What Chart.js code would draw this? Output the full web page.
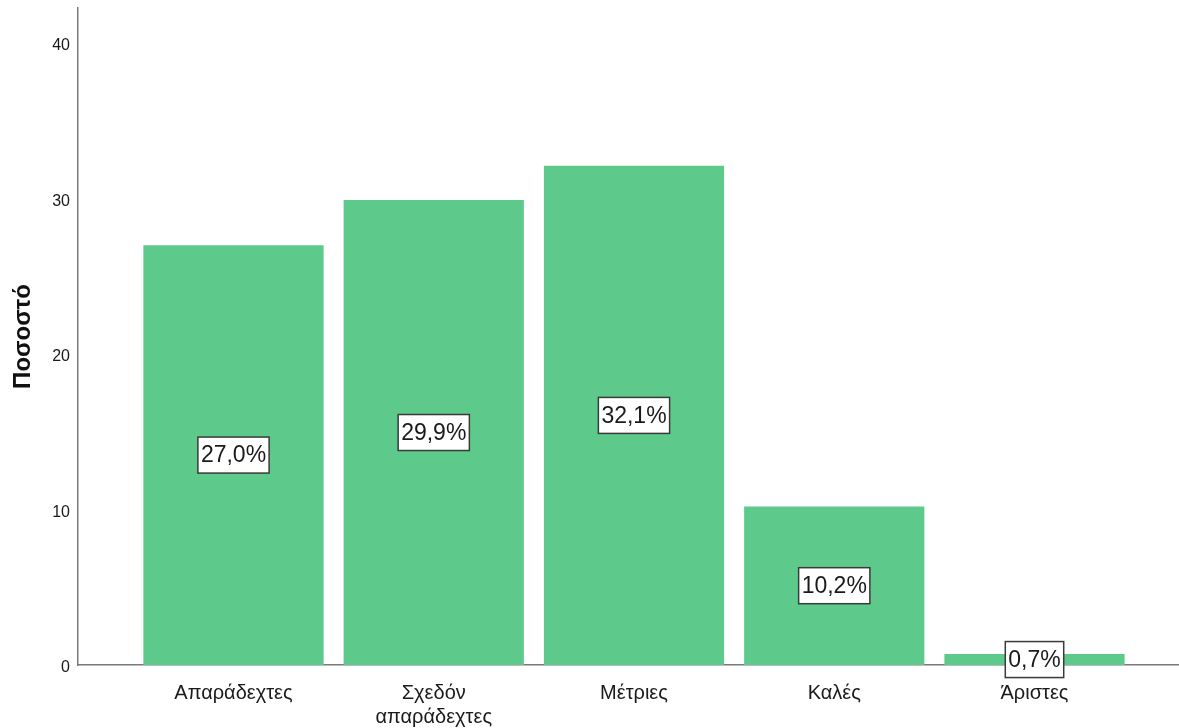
<!DOCTYPE html>
<html>
<head>
<meta charset="utf-8">
<script src="https://cdn.jsdelivr.net/npm/chart.js@4"></script>
<style>
  html, body { margin: 0; padding: 0; background: #fff; }
  #wrap { width: 1179px; height: 728px; position: relative; }
</style>
</head>
<body>
<div id="wrap"><canvas id="barChart"></canvas></div>
<script>
// ===== DATA =====
var categories = ['Απαράδεχτες', 'Σχεδόν απαράδεχτες', 'Μέτριες', 'Καλές', 'Άριστες'];
var percents = [27.0, 29.9, 32.1, 10.2, 0.7];
var yTicks = [0, 10, 20, 30, 40];

var fontFam = "'Liberation Sans', Arial, sans-serif";

// draws the boxed percentage in the middle of each bar
var boxLabels = {
    id: 'boxLabels',
    afterDatasetsDraw: function (chart) {
        var ctx = chart.ctx;
        var meta = chart.getDatasetMeta(0);
        ctx.save();
        ctx.font = '23px ' + fontFam;
        ctx.textAlign = 'center';
        ctx.textBaseline = 'middle';
        meta.data.forEach(function (bar, i) {
            var txt = percents[i].toFixed(1).replace('.', ',') + '%';
            var cx = bar.x;
            var cy = (bar.y + bar.base) / 2;
            var w = ctx.measureText(txt).width + 6;
            var h = 36;
            ctx.fillStyle = '#ffffff';
            ctx.fillRect(cx - w / 2, cy - h / 2, w, h);
            ctx.strokeStyle = '#3a3a3a';
            ctx.lineWidth = 1.5;
            ctx.strokeRect(cx - w / 2, cy - h / 2, w, h);
            ctx.fillStyle = '#1a1a1a';
            ctx.fillText(txt, cx, cy + 1);
        });
        ctx.restore();
    }
};

var ctx = document.getElementById('barChart').getContext('2d');
new Chart(ctx, {
    type: 'bar',
    data: {
        datasets: [{
            data: percents.map(function (v, i) { return { x: i, y: v }; }),
            backgroundColor: '#5dca8c',
            borderWidth: 0,
            barPercentage: 0.9,
            categoryPercentage: 1.0
        }]
    },
    options: {
        responsive: true,
        maintainAspectRatio: false,
        animation: false,
        layout: { padding: { top: 8, left: 0, right: 0, bottom: 0 } },
        plugins: { legend: { display: false }, tooltip: { enabled: false } },
        scales: {
            x: {
                type: 'linear',
                min: -0.7765,
                max: 4.7216,
                offset: false,
                afterBuildTicks: function (scale) {
                    scale.ticks = categories.map(function (c, i) { return { value: i }; });
                },
                afterFit: function (scale) {
                    scale.height = 63;
                    scale.paddingLeft = 0;
                    scale.paddingRight = 0;
                },
                ticks: {
                    autoSkip: false,
                    maxRotation: 0,
                    padding: 16,
                    color: '#1a1a1a',
                    font: { family: fontFam, size: 20, lineHeight: 1.2 },
                    callback: function (value) { return categories[value].split(' '); }
                },
                grid: { display: false, drawTicks: false },
                border: { display: true, color: '#7a7a7a', width: 1.5 }
            },
            y: {
                min: 0,
                max: 42.25,
                afterBuildTicks: function (scale) {
                    scale.ticks = yTicks.map(function (v) { return { value: v }; });
                },
                afterFit: function (scale) {
                    scale.width = 78;
                    scale.paddingTop = 0;
                    scale.paddingBottom = 0;
                },
                ticks: {
                    padding: 8,
                    labelOffset: 3,
                    color: '#1a1a1a',
                    font: { family: fontFam, size: 16 }
                },
                grid: { display: false, drawTicks: false },
                border: { display: true, color: '#7a7a7a', width: 1.5 },
                title: {
                    display: true,
                    text: 'Ποσοστό',
                    color: '#111',
                    padding: { top: 9, bottom: 20 },
                    font: { family: fontFam, size: 24, weight: 'bold' }
                }
            }
        }
    },
    plugins: [boxLabels]
});
</script>
</body>
</html>
